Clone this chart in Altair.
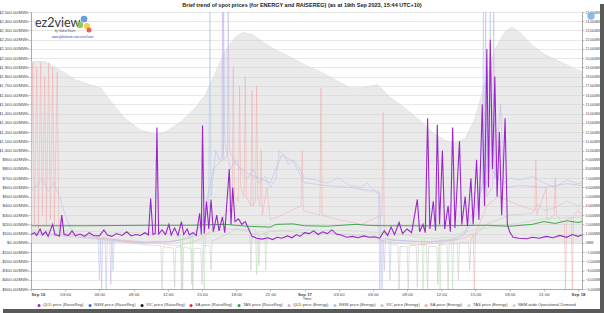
import altair as alt
import pandas as pd

TITLE = "Brief trend of spot prices (for ENERGY and RAISEREG) (as at 19th Sep 2023, 15:44 UTC+10)"

series_names = [
    "QLD price (RaiseReg)", "NSW price (RaiseReg)", "VIC price (RaiseReg)",
    "SA price (RaiseReg)", "TAS price (RaiseReg)", "QLD price (Energy)",
    "NSW price (Energy)", "VIC price (Energy)", "SA price (Energy)",
    "TAS price (Energy)", "NEM-wide Operational Demand",
]
series_colors = [
    "#9b27c9", "#2f6fd6", "#1a1a1a", "#e02a2a", "#2e9e3e", "#c9aee6",
    "#a9c3ee", "#c4c4c4", "#f3aaaa", "#b3deb3", "#d0d0d0",
]

x_tick_hours = list(range(0, 49, 3))
price_ticks = list(range(-500, 2501, 100))
demand_ticks = list(range(-5000, 25001, 1000))

# (hour since Sep 16 00:00, $/MWh)
qld_raisereg = [
    (0.0, 90), (0.3, 110), (0.5, 80), (0.8, 150), (1.0, 85), (1.3, 120), (1.5, 70),
    (1.9, 200), (2.1, 90), (2.5, 75), (2.7, 300), (2.9, 90), (3.3, 80), (3.6, 130),
    (3.9, 75), (4.3, 95), (4.7, 70), (5.1, 110), (5.5, 80), (6.0, 75), (6.4, 140),
    (6.7, 85), (7.1, 70), (7.5, 100), (8.0, 80), (8.4, 120), (8.8, 75), (9.2, 90),
    (9.6, 80), (10.0, 110), (10.3, 85), (10.5, 480), (10.7, 90), (10.9, 100),
    (11.05, 1250), (11.2, 95), (11.5, 140), (11.8, 90), (12.1, 200), (12.3, 85),
    (12.6, 160), (12.9, 80), (13.2, 230), (13.4, 90), (13.7, 150), (13.9, 85),
    (14.2, 110), (14.5, 80), (14.8, 320), (14.95, 90), (15.05, 1270), (15.2, 100),
    (15.4, 450), (15.6, 150), (15.8, 470), (16.0, 120), (16.3, 300), (16.5, 130),
    (16.8, 280), (17.0, 110), (17.4, 800), (17.55, 200), (17.7, 600), (17.9, 230),
    (18.2, 260), (18.5, 200), (18.8, 230), (19.1, 150), (19.4, 70), (19.8, 50),
    (20.3, 40), (20.8, 55), (21.2, 35), (21.6, 60), (22.0, 50), (22.5, 75), (22.9, 55),
    (23.3, 90), (23.6, 70), (24.0, 110), (24.4, 100), (24.8, 130), (25.2, 90),
    (25.6, 120), (26.0, 100), (26.4, 140), (26.8, 95), (27.2, 85), (27.7, 60),
    (28.2, 70), (28.7, 55), (29.2, 75), (29.7, 60), (30.2, 65), (30.6, 50),
    (31.0, 130), (31.3, 80), (31.6, 170), (31.9, 90), (32.3, 220), (32.6, 100),
    (33.0, 150), (33.4, 110), (33.9, 470), (34.1, 120), (34.4, 200), (34.6, 110),
    (34.8, 1350), (35.0, 150), (35.3, 450), (35.5, 130), (35.65, 1280), (35.85, 200),
    (36.1, 1000), (36.3, 150), (36.6, 400), (36.8, 120), (37.0, 1250), (37.2, 160),
    (37.6, 1100), (37.8, 200), (38.1, 500), (38.3, 180), (38.6, 700), (38.8, 200),
    (39.1, 900), (39.3, 250), (39.6, 1500), (39.8, 400), (40.0, 2100), (40.15, 600),
    (40.3, 2200), (40.5, 800), (40.7, 1800), (40.9, 500), (41.1, 1200), (41.3, 300),
    (41.6, 1350), (41.8, 200), (42.0, 120), (42.3, 60), (42.8, 50), (43.5, 45),
    (44.0, 60), (44.6, 50), (45.2, 70), (45.8, 55), (46.4, 80), (47.0, 60),
    (47.5, 90), (48.0, 70), (48.35, 85),
]

tas_raisereg = [
    (0, 185), (5, 185), (10, 190), (14, 190), (17, 200), (19, 180), (21, 170),
    (21.5, 200), (23, 205), (24, 185), (26, 180), (28.5, 200), (29.5, 190),
    (31, 185), (36, 185), (40, 190), (42, 180), (44, 200), (45, 230), (46, 210),
    (47, 240), (48, 220), (48.35, 230),
]

qld_energy = [
    (0, 100), (1, 90), (2, 80), (3, 70), (4, 60), (5, 50), (6.1, 40), (6.2, -500),
    (6.3, 60), (6.9, 50), (7.0, -450), (7.1, 40), (8, 20), (9, 10), (10, 0), (12, 10),
    (14, 50), (15, 200), (16, 800), (16.75, 900), (16.8, 2600), (16.9, 900),
    (17.25, 950), (17.3, 2600), (17.4, 1000), (18, 850), (19, 750), (20, 700),
    (21, 650), (22, 950), (23, 880), (24, 650), (26, 620), (28, 600), (30, 560),
    (30.5, 540), (30.6, -500), (30.7, 30), (30.9, 20), (31.0, -300), (31.1, 40),
    (33, 20), (35, 10), (37, 40), (38, 100), (39, 400), (39.8, 700), (39.9, 2600),
    (40.0, 500), (40.5, 600), (40.6, 2600), (40.7, 700), (41.2, 1500), (41.5, 600),
    (43, 620), (45, 600), (47, 640), (48.35, 620),
]

nsw_energy = [
    (0, 550), (0.5, 620), (1, 700), (1.5, 560), (2, 650), (2.5, 500), (3, 300),
    (3.5, 150), (4, 100), (5, 80), (5.9, 60), (6.0, -400), (6.1, 50), (6.5, 50),
    (6.6, -500), (6.7, 40), (7.1, 40), (7.2, -300), (7.3, 30), (8, 20), (9, 10),
    (10, 0), (11, 20), (12, 10), (13, 30), (14, 60), (15, 200), (15.6, 400),
    (15.7, 2600), (15.8, 500), (16.2, 1000), (16.5, 900), (16.85, 950), (16.9, 2600),
    (17.0, 1100), (17.5, 800), (18, 900), (18.5, 750), (19, 700), (19.5, 800),
    (20, 650), (20.5, 720), (21, 600), (21.5, 700), (21.8, 1000), (22.2, 950),
    (22.6, 850), (23, 900), (23.5, 820), (24, 700), (25, 680), (26, 650), (27, 700),
    (28, 620), (29, 600), (29.5, 650), (30, 580), (30.6, 550), (30.7, 100),
    (30.8, -500), (30.9, 50), (31.4, 40), (31.5, -400), (31.6, 30), (33, 20),
    (35, 10), (37, 30), (38, 80), (39, 300), (39.6, 600), (39.7, 2600), (39.8, 600),
    (40.2, 700), (40.3, 2600), (40.4, 800), (41, 700), (41.5, 650), (42, 700),
    (43, 680), (44, 720), (45, 650), (46, 600), (47, 680), (48, 640), (48.35, 650),
]

vic_energy = [
    (0, 120), (2, 100), (4, 80), (6, 40), (8, 10), (10, -20), (11.4, -30),
    (11.5, -500), (11.6, -40), (12.5, -60), (12.6, -480), (12.7, -50), (13.2, -40),
    (13.3, -500), (13.4, -40), (14.1, -70), (14.2, -520), (14.3, -60), (14.9, -60),
    (15.0, -450), (15.1, -30), (15.7, -30), (15.8, -300), (15.9, 20), (17, 80),
    (18, 150), (19.2, 120), (19.3, -300), (19.4, 100), (19.9, 100), (20.0, -250),
    (20.1, 90), (21, 120), (22, 130), (24, 110), (26, 100), (28, 90), (30, 60),
    (31, 20), (32.2, -30), (32.3, -500), (32.4, -40), (33.0, -40), (33.1, -520),
    (33.2, -30), (33.8, -30), (33.9, -480), (34.0, -20), (34.7, -20), (34.8, -500),
    (34.9, -40), (35.6, -40), (35.7, -450), (35.8, -20), (36.5, -20), (36.6, -500),
    (36.7, -10), (37.4, -10), (37.5, -400), (37.6, 0), (38.4, 0), (38.5, -300),
    (38.6, 50), (40, 200), (42, 300), (44, 320), (44.5, 420), (45, 350), (46, 380),
    (47, 450), (48, 400), (48.35, 420),
]

sa_energy = [
    (0, 150), (0.15, 1950), (0.3, 200), (0.5, 1900), (0.65, 150), (0.85, 1950),
    (1.0, 300), (1.2, 1800), (1.35, 200), (1.55, 1950), (1.7, 250), (1.9, 1900),
    (2.05, 200), (2.3, 1850), (2.45, 150), (2.6, 120), (3, 100), (4, 90), (5, 80),
    (6, 50), (7, 40), (8, 30), (9, 20), (10, 10), (11, 0), (12, -20), (13, -30),
    (14, 0), (15, 50), (16, 150), (17, 300), (17.65, 400), (17.75, 1900), (17.85, 500),
    (18.2, 450), (18.3, 1700), (18.4, 600), (18.7, 500), (18.8, 1800), (18.9, 500),
    (19.3, 400), (19.4, 1650), (19.5, 400), (19.7, 450), (19.8, 1700), (19.9, 500),
    (20.1, 400), (20.2, 1000), (20.3, 300), (20.7, 600), (21, 250), (22, 300),
    (23.7, 400), (23.8, 1000), (23.9, 350), (25.35, 300), (25.45, 1680), (25.55, 300),
    (27, 250), (29, 200), (30.8, 300), (30.9, 1410), (31.0, 100), (32, 0), (34, -20),
    (36, 0), (38, 50), (38.8, 100), (38.9, -500), (39.0, 100), (40, 400), (41, 500),
    (42, 450), (43, 400), (44.2, 350), (44.3, 900), (44.4, 300), (45.2, 600),
    (45.3, 250), (45.9, 300), (46.0, 700), (46.1, 300), (46.8, 200), (46.9, -500),
    (47.0, 250), (47.4, 280), (47.5, -500), (47.6, 300), (48, 350), (48.35, 300),
]

tas_energy = [
    (0, 140), (3, 130), (6, 120), (9, 110), (12, 100), (13.1, 80), (13.2, -500),
    (13.3, 60), (14.0, 70), (14.1, -450), (14.2, 70), (15.1, 80), (15.2, -500),
    (15.3, 90), (17, 150), (19.7, 140), (19.8, -350), (19.9, 120), (20.5, 120),
    (20.6, -300), (20.7, 130), (24, 140), (28, 130), (32, 100), (34.3, 60),
    (34.4, -500), (34.5, 50), (35.8, 50), (35.9, -500), (36.0, 60), (36.9, 60),
    (37.0, -500), (37.1, 80), (38, 120), (42, 200), (45, 260), (48.35, 280),
]

# (hour, MW)
nem_demand = [
    (0.0, 19630), (1.2, 19630), (2.5, 18760), (3.9, 17670), (5.2, 17120), (6.1, 16790),
    (6.9, 15490), (8.2, 13520), (9.6, 12210), (10.9, 11780), (11.8, 12000),
    (13.1, 13090), (14.4, 14610), (15.3, 16030), (16.1, 18210), (17.0, 20720),
    (17.9, 22250), (18.6, 22790), (19.4, 22570), (20.3, 21810), (21.4, 20940),
    (22.7, 20170), (24.0, 19300), (25.4, 18540), (26.7, 17670), (28.0, 16790),
    (29.0, 16790), (30.4, 17120), (31.5, 15810), (32.8, 14610), (34.1, 13300),
    (35.3, 11890), (36.3, 11120), (37.2, 10800), (38.1, 11340), (38.9, 13300),
    (39.8, 17120), (40.7, 20940), (41.6, 22900), (42.2, 23340), (42.9, 22790),
    (43.9, 21480), (45.1, 20390), (46.4, 19630), (47.5, 18970), (48.35, 18540),
]


def frame(name, pairs):
    return pd.DataFrame({
        "series": name,
        "hour": [p[0] for p in pairs],
        "value": [p[1] for p in pairs],
    })


energy_df = pd.concat([
    frame("QLD price (Energy)", qld_energy),
    frame("NSW price (Energy)", nsw_energy),
    frame("VIC price (Energy)", vic_energy),
    frame("SA price (Energy)", sa_energy),
    frame("TAS price (Energy)", tas_energy),
])
tas_rr_df = frame("TAS price (RaiseReg)", tas_raisereg)
qld_rr_df = frame("QLD price (RaiseReg)", qld_raisereg)
demand_df = frame("NEM-wide Operational Demand", nem_demand)

FONT = "Liberation Sans"

x_enc = alt.X(
    "hour:Q",
    scale=alt.Scale(domain=[0, 48.35], nice=False, zero=False),
    axis=alt.Axis(
        values=x_tick_hours,
        labelExpr="datum.value % 24 == 0 ? 'Sep ' + (16 + datum.value / 24) : "
                  "(datum.value % 24 < 10 ? '0' : '') + (datum.value % 24) + ':00'",
        labelFontWeight={"condition": {"test": "datum.value % 24 == 0", "value": "bold"},
                         "value": "normal"},
        title="Time", titleFontSize=4, titleFontWeight="normal", titlePadding=0,
        grid=False, labelPadding=1, tickSize=2,
    ),
)

price_scale = alt.Scale(domain=[-500, 2500], nice=False, zero=False)
price_axis = alt.Axis(
    values=price_ticks, orient="left", title=None,
    labelExpr="(datum.value < 0 ? '-' : '') + '$' + format(abs(datum.value), ',.2f') + '/MWh'",
    grid=True, tickSize=2, labelPadding=1, labelFontSize=4.2,
)

color_enc = alt.Color(
    "series:N",
    scale=alt.Scale(domain=series_names, range=series_colors),
    legend=alt.Legend(
        orient="none", legendX=6, legendY=291, direction="horizontal", columns=11,
        title=None, symbolType="circle", symbolSize=9, labelFontSize=4.1,
        labelFont=FONT, labelColor="#444", columnPadding=4, labelOffset=2,
        padding=0, symbolStrokeWidth=0, labelLimit=120,
    ),
)

energy = alt.Chart(energy_df).mark_line(clip=True, strokeWidth=0.7, opacity=0.75).encode(
    x=x_enc, y=alt.Y("value:Q", scale=price_scale, axis=price_axis), color=color_enc,
)
tas_rr = alt.Chart(tas_rr_df).mark_line(clip=True, strokeWidth=0.9).encode(
    x=x_enc, y=alt.Y("value:Q", scale=price_scale, axis=price_axis), color=color_enc,
)
qld_rr = alt.Chart(qld_rr_df).mark_line(clip=True, strokeWidth=1.1).encode(
    x=x_enc, y=alt.Y("value:Q", scale=price_scale, axis=price_axis), color=color_enc,
)
prices = alt.layer(energy, tas_rr, qld_rr)

demand = alt.Chart(demand_df).mark_area(
    clip=True, fillOpacity=0.45, stroke="#d6d6d6", strokeWidth=0.5
).encode(
    x=x_enc,
    y=alt.Y("value:Q", scale=alt.Scale(domain=[-5000, 25000], nice=False, zero=False),
            axis=alt.Axis(values=demand_ticks, orient="right", title=None, grid=False,
                          labelExpr="format(datum.value, ',') + 'MW'",
                          tickSize=2, labelPadding=1, labelFontSize=3.4)),
    color=color_enc,
)

one = pd.DataFrame({"k": [0]})
title_mark = alt.Chart(one).mark_text(
    text=TITLE, fontSize=5.5, fontWeight="bold", font=FONT, color="#222",
    align="center", baseline="middle",
).encode(x=alt.value(271), y=alt.value(-7))
logo_text = alt.Chart(one).mark_text(
    text="ez2view", fontSize=12.5, font="Lato", color="#3a3a3a", align="left", baseline="alphabetic"
).encode(x=alt.value(4), y=alt.value(15))
logo_sub = alt.Chart(one).mark_text(
    text="by Global-Roam", fontSize=2.8, font=FONT, color="#555", align="left"
).encode(x=alt.value(24), y=alt.value(19))
logo_link = alt.Chart(one).mark_text(
    text="www.globalroam.com.au/ez2view", fontSize=2.8, font=FONT, color="#3344cc", align="left"
).encode(x=alt.value(21), y=alt.value(25))
logo_dots = [
    alt.Chart(one).mark_circle(color=c, opacity=0.85, size=s).encode(x=alt.value(px), y=alt.value(py))
    for c, px, py, s in [("#4a90d9", 53, 7, 45), ("#7cc242", 49, 13, 40),
                         ("#f4c430", 56, 14, 35), ("#e8463a", 58, 18, 25)]
]
cloud = alt.Chart(one).mark_circle(color="#7fb2e5", opacity=0.9, size=55).encode(
    x=alt.value(560), y=alt.value(4))
shadow_r = alt.Chart(one).mark_rect(color="#5a5a5a").encode(
    x=alt.value(569), x2=alt.value(573), y=alt.value(-8), y2=alt.value(301))
shadow_b = alt.Chart(one).mark_rect(color="#5a5a5a").encode(
    x=alt.value(-28), x2=alt.value(573), y=alt.value(297), y2=alt.value(301))

chart = alt.layer(
    alt.layer(demand, prices).resolve_scale(y="independent"),
    title_mark, logo_text, logo_sub, logo_link, *logo_dots, cloud, shadow_r, shadow_b,
).properties(
    width=551, height=277,
    autosize=alt.AutoSizeParams(type="none"),
    padding={"left": 31, "top": 12, "right": 22, "bottom": 24},
).configure_axis(
    labelFont=FONT, labelFontSize=4.3, labelColor="#444", tickColor="#bbb",
    domainColor="#aaa", gridColor="#e8e8e8", titleFont=FONT, titleColor="#444",
).configure_view(stroke="#dddddd")

chart.save("out.html", embed_options={"renderer": "svg", "actions": False})
